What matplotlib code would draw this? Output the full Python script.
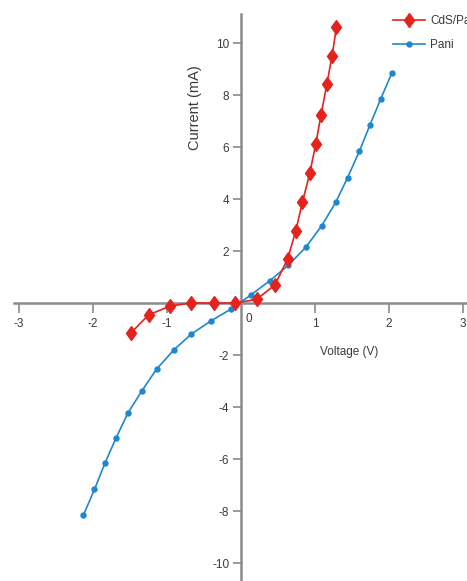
import matplotlib.pyplot as plt
import numpy as np

# CdS/Pani I-V data (red diamonds)
cds_v = [-1.49, -1.25, -0.96, -0.68, -0.37, -0.08, 0.21, 0.46, 0.63, 0.74, 0.83, 0.93, 1.01, 1.08, 1.16, 1.23, 1.29]
cds_i = [-1.16, -0.46, -0.12, 0.0, 0.0, 0.0, 0.14, 0.70, 1.70, 2.77, 3.88, 5.00, 6.11, 7.22, 8.41, 9.51, 10.60]

# Pani I-V data (blue dots)
pani_v = [-2.13, -1.98, -1.84, -1.69, -1.53, -1.34, -1.14, -0.91, -0.67, -0.40, -0.14, 0.13,
          0.39, 0.64, 0.88, 1.09, 1.28, 1.44, 1.60, 1.74, 1.89, 2.04]
pani_i = [-8.16, -7.17, -6.17, -5.20, -4.24, -3.38, -2.54, -1.81, -1.19, -0.68, -0.24, 0.30,
          0.86, 1.45, 2.16, 2.97, 3.87, 4.82, 5.84, 6.83, 7.86, 8.86]

x_ticks = [-3, -2, -1, 1, 2, 3]
y_ticks = [-10, -8, -6, -4, -2, 2, 4, 6, 8, 10]

plt.rcParams['font.family'] = ['Liberation Sans', 'DejaVu Sans']

fig = plt.figure(figsize=(4.67, 5.81), dpi=100)
ax = fig.add_axes([0, 0, 1, 1])

red = '#e5221c'
blue = '#1e88cf'
axis_col = '#8a8a8a'
txt_col = '#3a3a3a'

# tall, narrow diamond like the original
diamond = [(0, 1), (0.72, 0), (0, -1), (-0.72, 0), (0, 1)]

ax.plot(cds_v, cds_i, color=red, lw=1.2, marker=diamond, ms=10, mfc=red, mec=red, label='CdS/Pani', zorder=4)
ax.plot(pani_v, pani_i, color=blue, lw=1.2, marker='o', ms=3.6, mfc=blue, mec=blue, label='Pani', zorder=3)

# pixel-based limits: origin at (241, 303) px, 74 px/V, 26 px/mA
ax.set_xlim(-241 / 74, (467 - 241) / 74)
ax.set_ylim(-(581 - 303) / 26, 303 / 26)

for s in ['top', 'right']:
    ax.spines[s].set_visible(False)
ax.spines['left'].set_position(('data', 0))
ax.spines['bottom'].set_position(('data', 0))
ax.spines['left'].set_color(axis_col)
ax.spines['bottom'].set_color(axis_col)
ax.spines['left'].set_linewidth(1.8)
ax.spines['bottom'].set_linewidth(1.8)
ax.spines['bottom'].set_bounds(-3.07, 3.06)
ax.spines['left'].set_bounds(-10.7, 11.1)
ax.patch.set_visible(False)

ax.set_xticks(x_ticks)
ax.set_xticklabels([str(t) for t in x_ticks])
ax.set_yticks(y_ticks)
ax.set_yticklabels([str(t) for t in y_ticks])
ax.tick_params(axis='x', direction='out', length=7, width=1.2, color=axis_col, labelsize=8.5, pad=4, labelcolor=txt_col)
ax.tick_params(axis='y', direction='out', length=6, width=1.2, color=axis_col, labelsize=8.5, pad=2.5, labelcolor=txt_col)

ax.text(0.06, -0.6, '0', fontsize=8.5, color=txt_col, ha='left', va='center')
ax.text(1.46, -1.9, 'Voltage (V)', fontsize=8.5, color=txt_col, ha='center', va='center')
ax.text(-0.62, 7.5, 'Current (mA)', fontsize=10.5, color=txt_col, ha='center', va='center', rotation=90)

fig.legend(loc='upper left', bbox_to_anchor=(393 / 467, 1 - 15 / 581), frameon=False,
           fontsize=8.5, handlelength=2.7, handletextpad=0.45, labelspacing=1.0,
           borderpad=0, borderaxespad=0, labelcolor=txt_col)

fig.savefig('out.png', dpi=100)
